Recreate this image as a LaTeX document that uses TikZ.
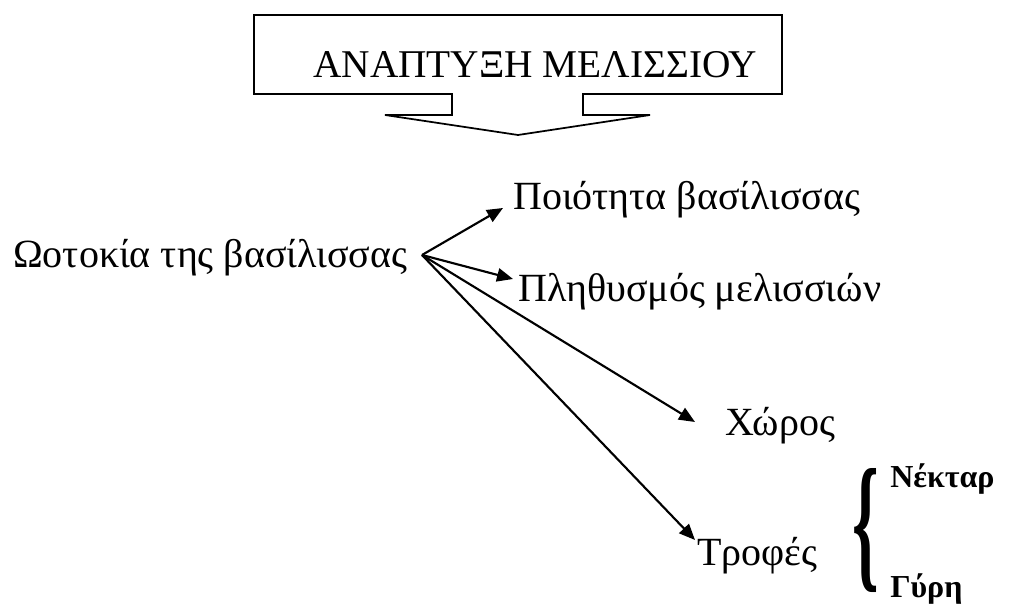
\documentclass[tikz,border=0pt]{standalone}
\usepackage{fontspec}
\setmainfont{Liberation Serif}
\usetikzlibrary{arrows.meta}

\begin{document}
\begin{tikzpicture}[x=0.75pt,y=-0.75pt,
    arr/.style={line width=1.6pt,-{Triangle[length=12pt,width=10pt]}},
    lbl/.style={anchor=base west,inner sep=0pt,font=\fontsize{30}{36}\selectfont},
    sub/.style={anchor=base west,inner sep=0pt,font=\fontsize{24}{28}\selectfont\bfseries}]
			%%%%% START %%%%%
			\useasboundingbox (0,0) rectangle (1012,605);
			
			% callout box
			\draw[line width=1.3pt] (254,15) -- (782,15) -- (782,94) -- (583,94) -- (583,115) -- (650,115)
			  -- (518,135) -- (385,115) -- (452,115) -- (452,94) -- (254,94) -- cycle;
			\node[anchor=base west,inner sep=0pt,font=\fontsize{29.5}{34}\selectfont] (title) at (313,78) {ΑΝΑΠΤΥΞΗ ΜΕΛΙΣΣΙΟΥ};
			
			\node[lbl] (woto) at (13,268) {Ωοτοκία της βασίλισσας};
			\coordinate (apex) at (422,255);
			
			\node[lbl] (poio) at (513,210) {Ποιότητα βασίλισσας};
			\node[lbl] (plith) at (518,302) {Πληθυσμός μελισσιών};
			\node[lbl] (xoros) at (725,435) {Χώρος};
			\node[lbl] (trofes) at (697,565) {Τροφές};
			
			\coordinate (tpoio) at (503,208);
			\coordinate (tplith) at (513,279);
			\coordinate (txoros) at (695,422);
			\coordinate (ttrofes) at (695,540);
			
			\draw[arr] (apex) -- (tpoio);
			\draw[arr] (apex) -- (tplith);
			\draw[arr] (apex) -- (txoros);
			\draw[arr] (apex) -- (ttrofes);
			
			% brace
			\node[inner sep=0pt] (brace) at (866,531) {\resizebox{20pt}{78pt}{\bfseries\{}};
			\node[sub] (nektar) at (890,487) {Νέκταρ};
			\node[sub] (gyri) at (890,597) {Γύρη};
			%%%%% END %%%%%
		\end{tikzpicture}
\end{document}
